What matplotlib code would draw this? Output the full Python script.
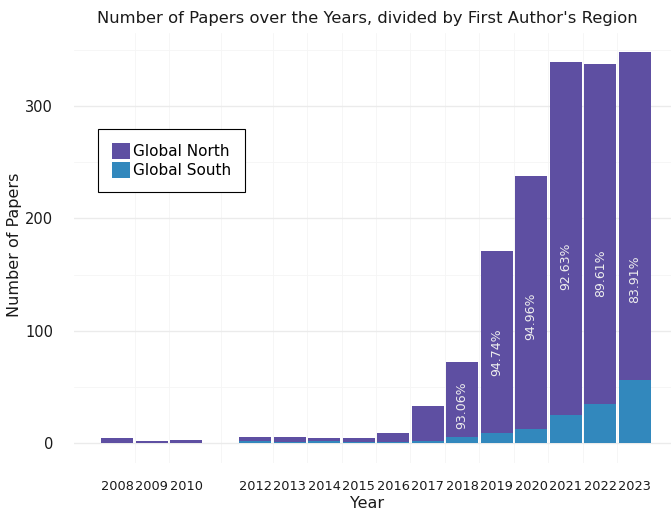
import matplotlib
matplotlib.use("Agg")
import matplotlib.pyplot as plt
from matplotlib.patches import Patch
import numpy as np

years = [2008, 2009, 2010, 2012, 2013, 2014, 2015, 2016, 2017, 2018, 2019, 2020, 2021, 2022, 2023]
global_north = [4, 2, 3, 3, 4, 2, 3, 8, 31, 67, 162, 226, 314, 302, 292]
global_south = [0, 0, 0, 2, 1, 2, 1, 1, 2, 5, 9, 12, 25, 35, 56]
pct_labels = {2018: "93.06%", 2019: "94.74%", 2020: "94.96%", 2021: "92.63%", 2022: "89.61%", 2023: "83.91%"}

c_north = "#5e4fa2"
c_south = "#3288bd"

plt.rcParams['font.family'] = ['DejaVu Sans']
fig = plt.figure(figsize=(6.71, 5.12), dpi=100)
ax = fig.add_axes([74/671, 1-462.5/512, (678-74)/671, (462.5-32.6)/512])

yrs = np.array(years)
gn = np.array(global_north)
gs = np.array(global_south)
tot = gn + gs
w = 0.92
ax.bar(yrs, gs, width=w, color=c_south, zorder=3)
ax.bar(yrs, gn, width=w, bottom=gs, color=c_north, zorder=3)

for y, n in zip(years, global_north):
    if y in pct_labels:
        ax.text(y, n / 2, pct_labels[y], rotation=90, ha='center', va='center',
                color='#eeeeee', fontsize=9, zorder=4)

lo, hi = yrs.min() - w/2, yrs.max() + w/2
span = hi - lo
ax.set_xlim(lo - 0.05*span, hi + 0.05*span)
ymax = tot.max()
ax.set_ylim(-0.05*ymax, ymax*1.05)

ax.set_xticks(years)
ax.set_xticklabels([str(y) for y in years], fontsize=9.3, color='#1a1a1a')
minor_x = [(a + b) / 2 for a, b in zip(years[:-1], years[1:])]
ax.set_xticks(minor_x, minor=True)
ax.set_yticks([0, 100, 200, 300])
ax.set_yticklabels(['0', '100', '200', '300'], fontsize=10.5, color='#1a1a1a')
ax.set_yticks([50, 150, 250, 350], minor=True)
ax.tick_params(axis='both', which='both', length=0)
ax.tick_params(axis='x', pad=12.3)
ax.tick_params(axis='y', pad=15)

ax.grid(True, axis='y', which='major', color='#ebebeb', linewidth=1.0, zorder=0)
ax.grid(True, axis='y', which='minor', color='#f5f5f5', linewidth=0.6, zorder=0)
ax.grid(True, axis='x', which='minor', color='#f5f5f5', linewidth=0.6, zorder=0)
for s in ax.spines.values():
    s.set_visible(False)

fig.text(367/671, 1-18/512, "Number of Papers over the Years, divided by First Author's Region",
         ha='center', va='center', fontsize=11.8, color='#1a1a1a')
fig.text(367/671, 1-503/512, "Year", ha='center', va='center', fontsize=11.5, color='#1a1a1a')
fig.text(15/671, 1-245/512, "Number of Papers", ha='center', va='center', rotation=90,
         fontsize=11.5, color='#1a1a1a')

handles = [Patch(facecolor=c_north, edgecolor='none', label='Global North'),
           Patch(facecolor=c_south, edgecolor='none', label='Global South')]
leg = ax.legend(handles=handles, loc='upper left', bbox_to_anchor=(98/671, 1-129/512),
                bbox_transform=fig.transFigure, fontsize=11, frameon=True, fancybox=False,
                handlelength=1.2, handleheight=1.3, handletextpad=0.2, labelspacing=0.15,
                borderpad=0.9, borderaxespad=0)
leg.get_frame().set_edgecolor('black')
leg.get_frame().set_linewidth(0.8)
leg.get_frame().set_facecolor('white')
leg.get_frame().set_alpha(1)
leg.set_zorder(5)

fig.savefig("out.png", dpi=100)
